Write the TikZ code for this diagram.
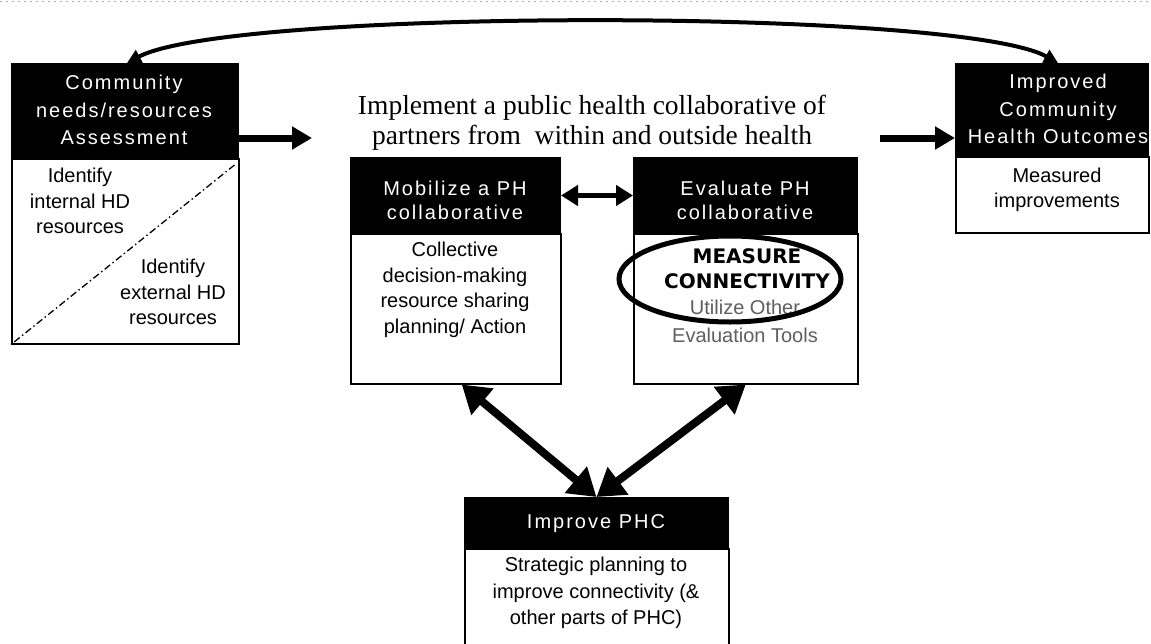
\documentclass[tikz,border=0pt]{standalone}
\usepackage{fontspec}
\setmainfont{Liberation Serif}
\setsansfont{Liberation Sans}
\newfontfamily\hdrfont[LetterSpace=10]{Liberation Sans}
\newfontfamily\boldfont{DejaVu Sans}
\usetikzlibrary{arrows.meta,shapes.geometric}
\definecolor{grtxt}{RGB}{95,95,95}
\begin{document}
\begin{tikzpicture}[x=1pt,y=-1pt,
  hdr/.style={fill=black, draw=black, line width=1pt, inner sep=0pt, anchor=north west},
  bodybox/.style={draw=black, line width=1.5pt, fill=white, inner sep=0pt, anchor=north west},
  htxt/.style={text=white, font=\hdrfont\fontsize{20}{27.5}\selectfont, align=center, inner sep=0pt},
  btxt/.style={font=\sffamily\fontsize{20}{25.5}\selectfont, align=center, inner sep=0pt},
  thick arrow/.style={line width=8pt, {Triangle[length=27pt,width=33pt]}-{Triangle[length=27pt,width=33pt]}},
  flow arrow/.style={line width=7pt, -{Triangle[length=20pt,width=22pt]}},
  mid arrow/.style={line width=5pt, {Triangle[length=17pt,width=20pt]}-{Triangle[length=17pt,width=20pt]}},
  top arrow/.style={line width=4pt, {Triangle[length=14pt,width=14pt]}-{Triangle[length=14pt,width=14pt]}}
]
\useasboundingbox (0,0) rectangle (1151,643);
\fill[white] (0,0) rectangle (1151,643);
\draw[gray!60, line width=1.5pt, dash pattern=on 2pt off 4pt] (0,1.5) -- (1151,1.5);

% left box
\node[hdr, minimum width=227pt, minimum height=95pt] (ah) at (11,63) {};
\node[bodybox, minimum width=227pt, minimum height=185pt] (ab) at (11,158) {};
\node[htxt] (aht) at (124,110) {Community\\needs/resources\\Assessment};
\draw[line width=1.3pt, dash pattern=on 7pt off 3pt on 1.5pt off 3pt] ([xshift=-5pt,yshift=-7pt]ab.north east) -- (ab.south west);
\node[btxt] (abt1) at (80,201) {Identify\\internal HD\\resources};
\node[btxt] (abt2) at (173,292) {Identify\\external HD\\resources};

% title
\node[font=\fontsize{27.5}{30}\selectfont, align=center, inner sep=0pt] (title) at (592,123)
  {Implement a public health collaborative of\\partners from\ \ within and outside health};

% mobilize box
\node[hdr, minimum width=210pt, minimum height=76pt] (mh) at (350,157) {};
\node[bodybox, minimum width=210pt, minimum height=150pt] (mb) at (350,233) {};
\node[htxt, font=\hdrfont\fontsize{20}{24}\selectfont] (mht) at (455,200) {Mobilize a PH\\collaborative};
\node[btxt] (mbt) at (455,290) {Collective\\decision-making\\resource sharing\\planning/ Action};

% evaluate box
\node[hdr, minimum width=224pt, minimum height=76pt] (eh) at (633,157) {};
\node[bodybox, minimum width=224pt, minimum height=150pt] (eb) at (633,233) {};
\node[htxt, font=\hdrfont\fontsize{20}{24}\selectfont] (eht) at (745,200) {Evaluate PH\\collaborative};
\node[font=\boldfont\bfseries\fontsize{20}{25}\selectfont, align=center, inner sep=0pt] (ebt1) at (747,269) {MEASURE\\CONNECTIVITY};
\node[btxt, text=grtxt, font=\sffamily\fontsize{20}{28}\selectfont] (ebt2) at (745,321) {Utilize Other\\Evaluation Tools};
\node[draw=black, ellipse, line width=5pt, minimum width=222pt, minimum height=86pt, inner sep=0pt] (ell) at (730,279) {};

% right box
\node[hdr, minimum width=193pt, minimum height=93pt] (rh) at (955,63) {};
\node[bodybox, minimum width=193pt, minimum height=76pt] (rb) at (955,156) {};
\node[htxt] (rht) at (1058,109) {Improved\\Community\\Health Outcomes};
\node[btxt] (rbt) at (1057,190) {Measured\\improvements};

% bottom box
\node[hdr, minimum width=264pt, minimum height=51pt] (ih) at (464,497) {};
\node[bodybox, minimum width=264pt, minimum height=110pt] (ib) at (464,548) {};
\node[htxt] (iht) at (596,524) {Improve PHC};
\node[btxt, font=\sffamily\fontsize{20}{26.5}\selectfont] (ibt) at (596,593) {Strategic planning to\\improve connectivity (\&\\other parts of PHC)};

% connectors
\draw[top arrow] ([xshift=116pt]ah.north west) .. controls (230,8) and (960,8) .. ([xshift=103pt]rh.north west);
\coordinate (la) at (312,138);
\draw[flow arrow] (ah.north east |- la) -- (la);
\coordinate (ra) at (880,138);
\draw[flow arrow] (ra) -- (rh.north west |- ra);
\draw[mid arrow] (mh.east) -- (eh.west);
\draw[thick arrow] ([xshift=6pt]mb.south) -- (ih.north);
\draw[thick arrow] (eb.south) -- (ih.north);
\end{tikzpicture}
\end{document}
